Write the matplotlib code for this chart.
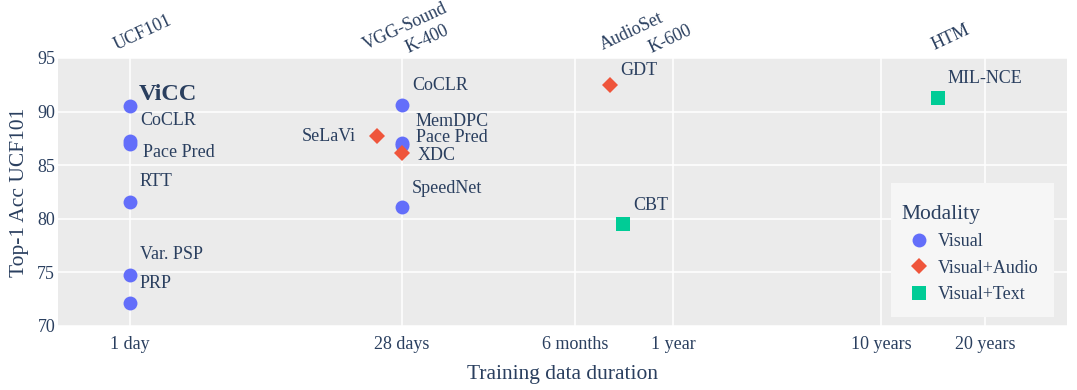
import numpy as np
import matplotlib
matplotlib.use("Agg")
import matplotlib.pyplot as plt
from matplotlib.lines import Line2D
from matplotlib.patches import Rectangle

plt.rcParams['font.family'] = ['Liberation Serif', 'DejaVu Serif']
ink = '#2a3f5f'

# bottom axis ticks (days) and their labels
tick_days = [1, 28, 182.5, 365, 3650, 7300]
tick_names = ['1 day', '28 days', '6 months', '1 year', '10 years', '20 years']
# where each tick sits across the plot (the original axis is not a pure log)
tick_pos = [130, 402, 575, 673, 881, 985]

# dataset names along the top
top_days = [0.853, 17.9, 29.9, 222.5, 314.6, 5197]
top_names = ['UCF101', 'VGG-Sound', 'K-400', 'AudioSet', 'K-600', 'HTM']
top_dy = [8, 8, 5, 8, 5, 8]

# Visual
vis_names = ['ViCC', 'CoCLR', 'Pace Pred', 'RTT', 'Var. PSP', 'PRP',
             'CoCLR', 'MemDPC', 'Pace Pred', 'SpeedNet']
vis_days = [1, 1, 1, 1, 1, 1, 28, 28, 28, 28]
vis_acc = [90.5, 87.3, 87.0, 81.6, 74.8, 72.1, 90.6, 87.1, 86.9, 81.1]

# Visual+Audio
aud_names = ['SeLaVi', 'XDC', 'GDT']
aud_days = [20.6, 28, 233]
aud_acc = [87.7, 86.1, 92.5]

# Visual+Text
txt_names = ['CBT', 'MIL-NCE']
txt_days = [256, 5337]
txt_acc = [79.5, 91.3]

# label offsets in pixels (dx, dy), dy up
vis_off = [(9, 12), (10, 20), (13, -9), (10, 20), (10, 20), (10, 20),
           (10, 20), (14, 21), (14, 7), (10, 19)]
aud_off = [(-21, 0), (16, -2), (11, 14)]
txt_off = [(10, 19), (10, 19)]
aud_ha = ['right', 'left', 'left']

L = np.log10(tick_days)
P = np.array(tick_pos, dtype=float)
s0 = (P[1] - P[0]) / (L[1] - L[0])
s1 = (P[-1] - P[-2]) / (L[-1] - L[-2])
LL = np.concatenate([[L[0] - 5], L, [L[-1] + 5]])
PP = np.concatenate([[P[0] - 5 * s0], P, [P[-1] + 5 * s1]])


def fwd(x):
    x = np.clip(np.asarray(x, dtype=float), 1e-6, None)
    return np.interp(np.log10(x), LL, PP)


def inv(p):
    return 10 ** np.interp(np.asarray(p, dtype=float), PP, LL)


fig = plt.figure(figsize=(10.77, 3.90), dpi=100)
W, H = 1077, 390
ax = fig.add_axes([58 / W, 1 - 326 / H, (1067 - 58) / W, (326 - 58) / H])
ax.set_facecolor('#ebebeb')
ax.set_xscale('function', functions=(fwd, inv))
ax.set_xlim(inv(58), inv(1067))
ax.set_ylim(70, 95)

ax.set_xticks(tick_days)
ax.set_xticklabels(tick_names)
ax.set_yticks([70, 75, 80, 85, 90, 95])
ax.xaxis.set_minor_locator(matplotlib.ticker.NullLocator())
ax.grid(True, color='white', linewidth=1.1)
ax.set_axisbelow(True)
for sp in ax.spines.values():
    sp.set_visible(False)
ax.tick_params(length=0, labelsize=13, colors=ink, pad=7)
ax.tick_params(axis='y', pad=2)

ax.set_xlabel('Training data duration', fontsize=15.5, color=ink, labelpad=9)
ax.set_ylabel('Top-1 Acc UCF101', fontsize=15.5, color=ink, labelpad=6)

blue, red, green = '#636efa', '#ef553b', '#00cc96'
ax.plot(vis_days, vis_acc, 'o', color=blue, markersize=10, markeredgewidth=0, zorder=3)
ax.plot(aud_days, aud_acc, 'D', color=red, markersize=7.8, markeredgewidth=0, zorder=3)
ax.plot(txt_days, txt_acc, 's', color=green, markersize=10.3, markeredgewidth=0, zorder=3)

for i, n in enumerate(vis_names):
    bold = i == 0
    ax.annotate(n, (vis_days[i], vis_acc[i]), xytext=vis_off[i], textcoords='offset pixels',
                ha='left', va='center', color=ink,
                fontsize=17.5 if bold else 13, fontweight='bold' if bold else 'normal')
for i, n in enumerate(aud_names):
    ax.annotate(n, (aud_days[i], aud_acc[i]), xytext=aud_off[i], textcoords='offset pixels',
                ha=aud_ha[i], va='center', color=ink, fontsize=13)
for i, n in enumerate(txt_names):
    ax.annotate(n, (txt_days[i], txt_acc[i]), xytext=txt_off[i], textcoords='offset pixels',
                ha='left', va='center', color=ink, fontsize=13)

# dataset names above the plot, rotated
for d, n, dy in zip(top_days, top_names, top_dy):
    ax.annotate(n, (d, 1), xycoords=('data', 'axes fraction'), xytext=(0, dy),
                textcoords='offset pixels', rotation=25, rotation_mode='anchor',
                ha='left', va='baseline', color=ink, fontsize=13, annotation_clip=False)

# legend
aw, ah = 1067 - 58, 326 - 58
ax.add_patch(Rectangle(((891 - 58) / aw, (326 - 317) / ah), (1054 - 891) / aw, (317 - 183) / ah,
                       transform=ax.transAxes, facecolor='#f6f6f6', edgecolor='none', zorder=4))
handles = [
    Line2D([], [], marker='o', linestyle='', color=blue, markersize=10, markeredgewidth=0),
    Line2D([], [], marker='D', linestyle='', color=red, markersize=7.8, markeredgewidth=0),
    Line2D([], [], marker='s', linestyle='', color=green, markersize=10.3, markeredgewidth=0),
]
leg = ax.legend(handles, ['Visual', 'Visual+Audio', 'Visual+Text'], title='Modality',
                loc='upper left', bbox_to_anchor=((901 - 58) / aw, (326 - 205) / ah),
                frameon=False, fontsize=13, title_fontsize=15.5,
                labelcolor=ink, handletextpad=0.05, handlelength=2.0, borderpad=0,
                labelspacing=0.52, borderaxespad=0)
leg.set_zorder(5)
leg.get_title().set_color(ink)
leg._legend_box.align = 'left'
leg._legend_box._children[0].sep = 0

fig.savefig('out.png', dpi=100, facecolor='white')
